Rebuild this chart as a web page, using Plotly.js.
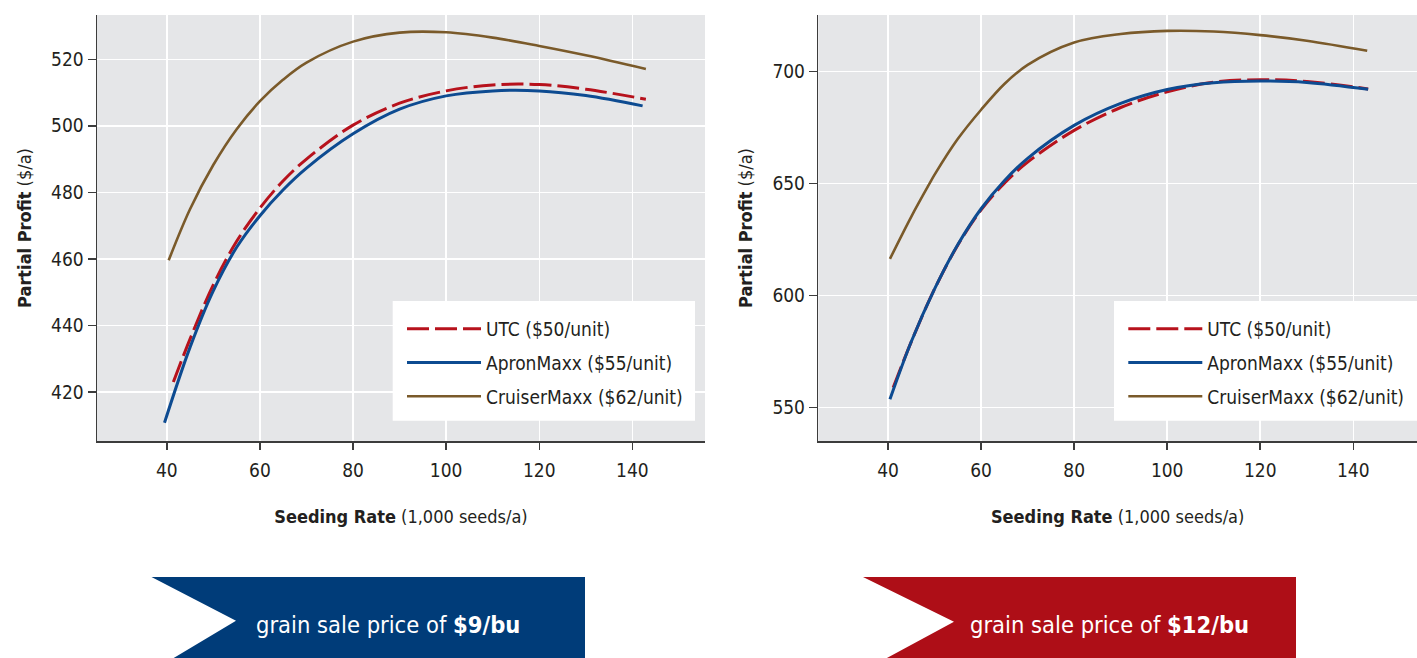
<!DOCTYPE html>
<html>
<head>
<meta charset="utf-8">
<script src="https://cdn.plot.ly/plotly-3.0.1.min.js"></script>
<style>html,body{margin:0;padding:0;background:#fff;}#chart{width:1417px;height:658px;}</style>
</head>
<body>
<div id="chart"></div>
<script>
// ---------- DATA ----------
const seriesNames = ["UTC ($50/unit)", "ApronMaxx ($55/unit)", "CruiserMaxx ($62/unit)"];

// $9/bu panel
const rate9UTC      = [41.4, 45, 50, 55, 60, 65, 70, 80, 90, 100, 110, 120, 130, 142.9];
const profit9UTC    = [423, 436, 452.3, 465.3, 475.3, 483.5, 490, 500.2, 506.8, 510.5, 512.3, 512.4, 511, 508];
const rate9Apron    = [39.5, 45, 50, 55, 60, 65, 70, 80, 90, 100, 110, 120, 130, 142.2];
const profit9Apron  = [410.8, 433.5, 450.5, 463.5, 473, 480.8, 487.3, 497.6, 505, 509, 510.5, 510.5, 509.1, 506];
const rate9Cruiser  = [40.4, 45, 50, 55, 60, 65, 70, 80, 90, 100, 110, 120, 130, 142.9];
const profit9Cruiser= [459.6, 475, 488.3, 499, 507.4, 513.9, 519, 525.3, 528, 528.1, 526.5, 524, 521.2, 517.1];

// $12/bu panel
const rate12UTC      = [41.1, 45, 50, 55, 60, 65, 70, 80, 90, 100, 110, 120, 130, 143.2];
const profit12UTC    = [559, 579.5, 603, 622.6, 638.3, 650.2, 659.6, 673.8, 684, 691, 695.3, 696.4, 695.6, 692.3];
const rate12Apron    = [40.4, 45, 50, 55, 60, 65, 70, 80, 90, 100, 110, 120, 130, 143.2];
const profit12Apron  = [553.7, 579.5, 603, 622.8, 638.8, 651.3, 661.3, 676, 685.8, 692, 695, 695.8, 695.2, 692.1];
const rate12Cruiser  = [40.4, 45, 48.9, 50, 55, 60, 65, 70, 80, 90, 100, 110, 120, 130, 143];
const profit12Cruiser= [616.4, 635.3, 650, 654, 670, 683, 694.5, 703, 713, 716.8, 718.2, 717.9, 716.3, 713.8, 709.3];

const xTitle = "<b>Seeding Rate</b> (1,000 seeds/a)";
const yTitle = "<b>Partial Profit</b> ($/a)";
const bannerTexts = ["grain sale price of <b>$9/bu</b>", "grain sale price of <b>$12/bu</b>"];

// ---------- STYLE ----------
const W = 1417, H = 658;
const FONT = "'DejaVu Sans Condensed', 'Liberation Sans Narrow', sans-serif";
const INK = "#231f20";
const colors = ["#b7121c", "#0d4b91", "#7a5a2a"];
const dashes = ["22px,6px", "solid", "solid"];
const widths = [3, 3, 2.6];
const px = (x) => x / W;
const py = (y) => 1 - y / H;

function mk(x, y, i, xa, ya, leg) {
  return {
    x: x, y: y, type: "scatter", mode: "lines", name: seriesNames[i],
    xaxis: xa, yaxis: ya, legend: leg, legendgroup: leg + i,
    line: {color: colors[i], width: widths[i], dash: dashes[i], shape: "spline", smoothing: 1},
    hoverinfo: "x+y+name"
  };
}

const traces = [
  mk(rate9UTC, profit9UTC, 0, "x", "y", "legend"),
  mk(rate9Apron, profit9Apron, 1, "x", "y", "legend"),
  mk(rate9Cruiser, profit9Cruiser, 2, "x", "y", "legend"),
  mk(rate12UTC, profit12UTC, 0, "x2", "y2", "legend2"),
  mk(rate12Apron, profit12Apron, 1, "x2", "y2", "legend2"),
  mk(rate12Cruiser, profit12Cruiser, 2, "x2", "y2", "legend2")
];

function xAxis(domain, range, anchor) {
  return {
    domain: domain, range: range, tick0: 40, dtick: 20, anchor: anchor,
    showgrid: true, gridcolor: "#ffffff", gridwidth: 1.5, zeroline: false,
    showline: true, linecolor: "#3c3c3c", linewidth: 1.5,
    ticks: "outside", ticklen: 7, tickcolor: "#3c3c3c", tickwidth: 1.5,
    ticklabelstandoff: 5,
    tickfont: {family: FONT, size: 19, color: INK},
    title: {text: xTitle, font: {family: FONT, size: 18, color: INK}, standoff: 30},
    fixedrange: true
  };
}
function yAxis(domain, range, dtick, anchor) {
  return {
    domain: domain, range: range, tick0: 0, dtick: dtick, anchor: anchor,
    showgrid: true, gridcolor: "#ffffff", gridwidth: 1.5, zeroline: false,
    showline: true, linecolor: "#3c3c3c", linewidth: 1.5,
    ticks: "outside", ticklen: 8, tickcolor: "#3c3c3c", tickwidth: 1.5,
    tickfont: {family: FONT, size: 19, color: INK},
    title: {text: yTitle, font: {family: FONT, size: 18, color: INK}, standoff: 15},
    fixedrange: true
  };
}

const yDom = [py(441), py(15)];

function banner(x0, xNotch, yNotch, xBot, x1, color) {
  const yT = 577, yB = 665;
  const path = "M" + px(x0) + "," + py(yT) + " L" + px(x1) + "," + py(yT) + " L" + px(x1) + "," + py(yB) +
    " L" + px(xBot) + "," + py(yB) + " L" + px(xNotch) + "," + py(yNotch) + " Z";
  return {type: "path", xref: "paper", yref: "paper", path: path, fillcolor: color, line: {width: 0}, layer: "above"};
}
function legendBox(x0, x1) {
  return {type: "rect", xref: "paper", yref: "paper", x0: px(x0), x1: px(x1), y0: py(420.7), y1: py(301),
          fillcolor: "#ffffff", line: {width: 0}, layer: "above"};
}

const legendBase = {
  xanchor: "left", yanchor: "top", bgcolor: "rgba(255,255,255,0)", borderwidth: 0,
  font: {family: FONT, size: 19, color: INK}, itemwidth: 74, tracegroupgap: 6,
  traceorder: "grouped"
};

const layout = {
  width: W, height: H,
  margin: {l: 0, r: 0, t: 0, b: 0},
  paper_bgcolor: "#ffffff", plot_bgcolor: "#e5e6e8",
  font: {family: FONT, color: INK},
  xaxis: xAxis([px(97), px(705)], [25, 155.6], "y"),
  yaxis: yAxis(yDom, [405.3, 533.3], 20, "x"),
  xaxis2: xAxis([px(818.3), 1], [25, 153.7], "y2"),
  yaxis2: yAxis(yDom, [535.1, 725.3], 50, "x2"),
  legend: Object.assign({}, legendBase, {x: px(402), y: py(310)}),
  legend2: Object.assign({}, legendBase, {x: px(1123.3), y: py(310)}),
  shapes: [
    legendBox(392.7, 695),
    legendBox(1114, 1417),
    banner(151.5, 236, 620.7, 162, 585, "#003c79"),
    banner(863, 954, 621.7, 874, 1296, "#ae0e17")
  ],
  annotations: [
    {xref: "paper", yref: "paper", x: px(388), y: py(625), xanchor: "center", yanchor: "middle",
     text: bannerTexts[0], showarrow: false, font: {family: FONT, size: 23.5, color: "#ffffff"}},
    {xref: "paper", yref: "paper", x: px(1109), y: py(625), xanchor: "center", yanchor: "middle",
     text: bannerTexts[1], showarrow: false, font: {family: FONT, size: 23.5, color: "#ffffff"}}
  ],
  showlegend: true
};

Plotly.newPlot("chart", traces, layout, {displayModeBar: false, staticPlot: true});
</script>
</body>
</html>
